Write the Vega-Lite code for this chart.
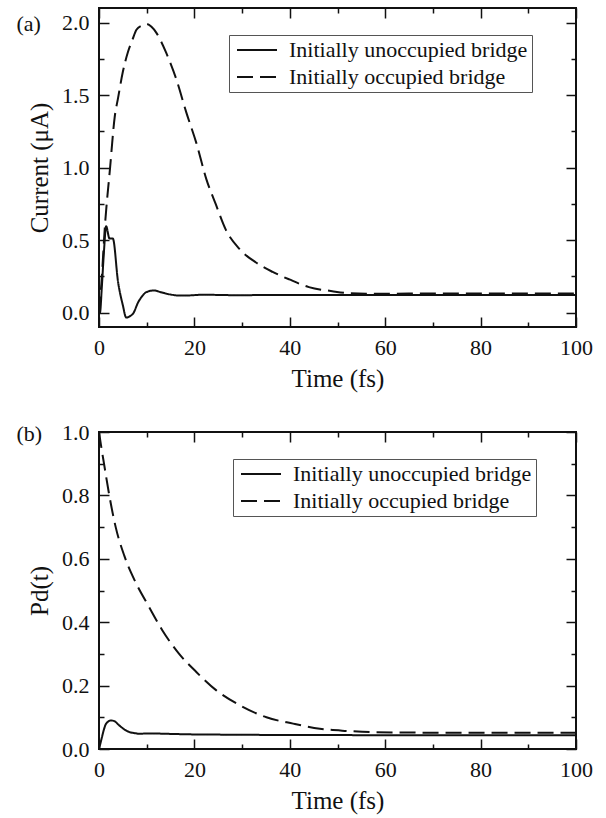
{
  "$schema": "https://vega.github.io/schema/vega-lite/v6.json",
  "padding": {"left": 15, "top": 6, "right": 5, "bottom": 5},
  "bounds": "flush",
  "spacing": 105,
  "datasets": {
    "current": [
      {"t": 0, "v": 0, "series": "Initially unoccupied bridge"},
      {"t": 0.2, "v": 0.0, "series": "Initially unoccupied bridge"},
      {"t": 0.6, "v": 0.18, "series": "Initially unoccupied bridge"},
      {"t": 1.0, "v": 0.4, "series": "Initially unoccupied bridge"},
      {"t": 1.5, "v": 0.595, "series": "Initially unoccupied bridge"},
      {"t": 2.2, "v": 0.51, "series": "Initially unoccupied bridge"},
      {"t": 2.9, "v": 0.51, "series": "Initially unoccupied bridge"},
      {"t": 4.0, "v": 0.21, "series": "Initially unoccupied bridge"},
      {"t": 5.0, "v": 0.05, "series": "Initially unoccupied bridge"},
      {"t": 5.7, "v": -0.035, "series": "Initially unoccupied bridge"},
      {"t": 6.5, "v": -0.025, "series": "Initially unoccupied bridge"},
      {"t": 7.2, "v": -0.005, "series": "Initially unoccupied bridge"},
      {"t": 8.2, "v": 0.07, "series": "Initially unoccupied bridge"},
      {"t": 9.0, "v": 0.11, "series": "Initially unoccupied bridge"},
      {"t": 9.9, "v": 0.14, "series": "Initially unoccupied bridge"},
      {"t": 11.5, "v": 0.152, "series": "Initially unoccupied bridge"},
      {"t": 13, "v": 0.14, "series": "Initially unoccupied bridge"},
      {"t": 15, "v": 0.124, "series": "Initially unoccupied bridge"},
      {"t": 17, "v": 0.117, "series": "Initially unoccupied bridge"},
      {"t": 19, "v": 0.118, "series": "Initially unoccupied bridge"},
      {"t": 22, "v": 0.123, "series": "Initially unoccupied bridge"},
      {"t": 25, "v": 0.121, "series": "Initially unoccupied bridge"},
      {"t": 30, "v": 0.119, "series": "Initially unoccupied bridge"},
      {"t": 35, "v": 0.121, "series": "Initially unoccupied bridge"},
      {"t": 40, "v": 0.121, "series": "Initially unoccupied bridge"},
      {"t": 50, "v": 0.12, "series": "Initially unoccupied bridge"},
      {"t": 60, "v": 0.12, "series": "Initially unoccupied bridge"},
      {"t": 70, "v": 0.12, "series": "Initially unoccupied bridge"},
      {"t": 80, "v": 0.12, "series": "Initially unoccupied bridge"},
      {"t": 90, "v": 0.12, "series": "Initially unoccupied bridge"},
      {"t": 100, "v": 0.12, "series": "Initially unoccupied bridge"},
      {"t": 0, "v": 0, "series": "Initially occupied bridge"},
      {"t": 0.5, "v": 0.2, "series": "Initially occupied bridge"},
      {"t": 1.25, "v": 0.6, "series": "Initially occupied bridge"},
      {"t": 2.3, "v": 0.99, "series": "Initially occupied bridge"},
      {"t": 3.3, "v": 1.35, "series": "Initially occupied bridge"},
      {"t": 4.0, "v": 1.48, "series": "Initially occupied bridge"},
      {"t": 5.0, "v": 1.66, "series": "Initially occupied bridge"},
      {"t": 6.1, "v": 1.8, "series": "Initially occupied bridge"},
      {"t": 7.0, "v": 1.88, "series": "Initially occupied bridge"},
      {"t": 7.85, "v": 1.95, "series": "Initially occupied bridge"},
      {"t": 9.0, "v": 1.98, "series": "Initially occupied bridge"},
      {"t": 9.9, "v": 1.99, "series": "Initially occupied bridge"},
      {"t": 11.0, "v": 1.97, "series": "Initially occupied bridge"},
      {"t": 12.0, "v": 1.93, "series": "Initially occupied bridge"},
      {"t": 13.0, "v": 1.87, "series": "Initially occupied bridge"},
      {"t": 14.1, "v": 1.79, "series": "Initially occupied bridge"},
      {"t": 16.2, "v": 1.61, "series": "Initially occupied bridge"},
      {"t": 18.3, "v": 1.38, "series": "Initially occupied bridge"},
      {"t": 20.4, "v": 1.17, "series": "Initially occupied bridge"},
      {"t": 22.5, "v": 0.92, "series": "Initially occupied bridge"},
      {"t": 24.5, "v": 0.745, "series": "Initially occupied bridge"},
      {"t": 26.6, "v": 0.57, "series": "Initially occupied bridge"},
      {"t": 29.4, "v": 0.44, "series": "Initially occupied bridge"},
      {"t": 32.9, "v": 0.345, "series": "Initially occupied bridge"},
      {"t": 36.4, "v": 0.28, "series": "Initially occupied bridge"},
      {"t": 39.9, "v": 0.228, "series": "Initially occupied bridge"},
      {"t": 44, "v": 0.175, "series": "Initially occupied bridge"},
      {"t": 48.9, "v": 0.147, "series": "Initially occupied bridge"},
      {"t": 52.4, "v": 0.133, "series": "Initially occupied bridge"},
      {"t": 56, "v": 0.13, "series": "Initially occupied bridge"},
      {"t": 60, "v": 0.13, "series": "Initially occupied bridge"},
      {"t": 70, "v": 0.131, "series": "Initially occupied bridge"},
      {"t": 80, "v": 0.131, "series": "Initially occupied bridge"},
      {"t": 90, "v": 0.131, "series": "Initially occupied bridge"},
      {"t": 100, "v": 0.131, "series": "Initially occupied bridge"}
    ],
    "pd": [
      {"t": 0, "v": 0, "series": "Initially unoccupied bridge"},
      {"t": 0.5, "v": 0.03, "series": "Initially unoccupied bridge"},
      {"t": 1.0, "v": 0.06, "series": "Initially unoccupied bridge"},
      {"t": 1.5, "v": 0.08, "series": "Initially unoccupied bridge"},
      {"t": 2.5, "v": 0.09, "series": "Initially unoccupied bridge"},
      {"t": 3.2, "v": 0.088, "series": "Initially unoccupied bridge"},
      {"t": 4.2, "v": 0.075, "series": "Initially unoccupied bridge"},
      {"t": 5.3, "v": 0.062, "series": "Initially unoccupied bridge"},
      {"t": 6.3, "v": 0.054, "series": "Initially unoccupied bridge"},
      {"t": 7.5, "v": 0.05, "series": "Initially unoccupied bridge"},
      {"t": 8.4, "v": 0.048, "series": "Initially unoccupied bridge"},
      {"t": 10, "v": 0.049, "series": "Initially unoccupied bridge"},
      {"t": 11.2, "v": 0.049, "series": "Initially unoccupied bridge"},
      {"t": 14, "v": 0.048, "series": "Initially unoccupied bridge"},
      {"t": 20, "v": 0.046, "series": "Initially unoccupied bridge"},
      {"t": 30, "v": 0.045, "series": "Initially unoccupied bridge"},
      {"t": 40, "v": 0.044, "series": "Initially unoccupied bridge"},
      {"t": 50, "v": 0.044, "series": "Initially unoccupied bridge"},
      {"t": 60, "v": 0.043, "series": "Initially unoccupied bridge"},
      {"t": 80, "v": 0.043, "series": "Initially unoccupied bridge"},
      {"t": 100, "v": 0.043, "series": "Initially unoccupied bridge"},
      {"t": 0, "v": 1.0, "series": "Initially occupied bridge"},
      {"t": 0.4, "v": 0.96, "series": "Initially occupied bridge"},
      {"t": 1.05, "v": 0.9, "series": "Initially occupied bridge"},
      {"t": 2.1, "v": 0.805, "series": "Initially occupied bridge"},
      {"t": 3.5, "v": 0.7, "series": "Initially occupied bridge"},
      {"t": 5.3, "v": 0.61, "series": "Initially occupied bridge"},
      {"t": 7.7, "v": 0.525, "series": "Initially occupied bridge"},
      {"t": 10.5, "v": 0.448, "series": "Initially occupied bridge"},
      {"t": 13.3, "v": 0.374, "series": "Initially occupied bridge"},
      {"t": 16.8, "v": 0.3, "series": "Initially occupied bridge"},
      {"t": 20.4, "v": 0.243, "series": "Initially occupied bridge"},
      {"t": 24.6, "v": 0.185, "series": "Initially occupied bridge"},
      {"t": 29.5, "v": 0.138, "series": "Initially occupied bridge"},
      {"t": 35.1, "v": 0.1, "series": "Initially occupied bridge"},
      {"t": 40.7, "v": 0.08, "series": "Initially occupied bridge"},
      {"t": 46.3, "v": 0.064, "series": "Initially occupied bridge"},
      {"t": 51.9, "v": 0.057, "series": "Initially occupied bridge"},
      {"t": 57.5, "v": 0.053, "series": "Initially occupied bridge"},
      {"t": 65, "v": 0.052, "series": "Initially occupied bridge"},
      {"t": 75, "v": 0.051, "series": "Initially occupied bridge"},
      {"t": 85, "v": 0.051, "series": "Initially occupied bridge"},
      {"t": 100, "v": 0.051, "series": "Initially occupied bridge"}
    ]
  },
  "vconcat": [
    {
      "width": 477,
      "height": 319,
      "data": {"name": "current"},
      "layer": [
        {
          "mark": {"type": "line", "color": "#111111", "strokeWidth": 2, "interpolate": "monotone", "clip": true},
          "encoding": {
            "x": {"field": "t", "type": "quantitative", "scale": {"domain": [0, 100], "nice": false, "zero": false},
                  "axis": {"orient": "bottom", "values": [0, 20, 40, 60, 80, 100], "tickSize": -10, "labelPadding": 20, "title": "Time (fs)", "titlePadding": 8}},
            "y": {"field": "v", "type": "quantitative", "scale": {"domain": [-0.1, 2.1], "nice": false, "zero": false},
                  "axis": {"orient": "left", "values": [0, 0.5, 1, 1.5, 2], "format": ".1f", "tickSize": -10, "labelPadding": 20, "title": "Current (μA)", "titlePadding": 9}},
            "strokeDash": {"field": "series", "type": "nominal",
                           "scale": {"domain": ["Initially unoccupied bridge", "Initially occupied bridge"], "range": [[1, 0], [16, 7]]},
                           "legend": {"orient": "none", "legendX": 130, "legendY": 27, "title": null, "symbolType": "M-2,0H2", "symbolSize": 400, "symbolOffset": 13, "labelOffset": 21}}
          }
        },
        {
          "mark": {"type": "line", "opacity": 0},
          "encoding": {
            "x": {"field": "t", "type": "quantitative", "axis": {"orient": "bottom", "values": [10, 30, 50, 70, 90], "tickSize": -5, "labels": false, "title": null}},
            "y": {"field": "v", "type": "quantitative", "axis": {"orient": "left", "values": [0.25, 0.75, 1.25, 1.75], "tickSize": -5, "labels": false,
                  "title": "(a)", "titleAngle": 0, "titleAlign": "left", "titleBaseline": "alphabetic", "titleFontSize": 22, "titleX": -83, "titleY": 22}}
          }
        },
        {
          "mark": {"type": "line", "opacity": 0},
          "encoding": {
            "x": {"field": "t", "type": "quantitative", "axis": {"orient": "top", "values": [0, 20, 40, 60, 80, 100], "tickSize": -10, "labels": false, "title": null}},
            "y": {"field": "v", "type": "quantitative", "axis": {"orient": "right", "values": [0, 0.5, 1, 1.5, 2], "tickSize": -10, "labels": false, "title": null}}
          }
        },
        {
          "mark": {"type": "line", "opacity": 0},
          "encoding": {
            "x": {"field": "t", "type": "quantitative", "axis": {"orient": "top", "values": [10, 30, 50, 70, 90], "tickSize": -5, "labels": false, "title": null}},
            "y": {"field": "v", "type": "quantitative", "axis": {"orient": "right", "values": [0.25, 0.75, 1.25, 1.75], "tickSize": -5, "labels": false, "title": null}}
          }
        }
      ],
      "resolve": {"axis": {"x": "independent", "y": "independent"}}
    },
    {
      "width": 477,
      "height": 317,
      "data": {"name": "pd"},
      "layer": [
        {
          "mark": {"type": "line", "color": "#111111", "strokeWidth": 2, "interpolate": "monotone", "clip": true},
          "encoding": {
            "x": {"field": "t", "type": "quantitative", "scale": {"domain": [0, 100], "nice": false, "zero": false},
                  "axis": {"orient": "bottom", "values": [0, 20, 40, 60, 80, 100], "tickSize": -10, "labelPadding": 20, "title": "Time (fs)", "titlePadding": 8}},
            "y": {"field": "v", "type": "quantitative", "scale": {"domain": [0, 1], "nice": false, "zero": false},
                  "axis": {"orient": "left", "values": [0, 0.2, 0.4, 0.6, 0.8, 1], "format": ".1f", "tickSize": -10, "labelPadding": 20, "title": "Pd(t)", "titlePadding": 9}},
            "strokeDash": {"field": "series", "type": "nominal",
                           "scale": {"domain": ["Initially unoccupied bridge", "Initially occupied bridge"], "range": [[1, 0], [16, 7]]},
                           "legend": {"orient": "none", "legendX": 134, "legendY": 27, "title": null, "symbolType": "M-2,0H2", "symbolSize": 400, "symbolOffset": 13, "labelOffset": 21}}
          }
        },
        {
          "mark": {"type": "line", "opacity": 0},
          "encoding": {
            "x": {"field": "t", "type": "quantitative", "axis": {"orient": "bottom", "values": [10, 30, 50, 70, 90], "tickSize": -5, "labels": false, "title": null}},
            "y": {"field": "v", "type": "quantitative", "axis": {"orient": "left", "values": [0.1, 0.3, 0.5, 0.7, 0.9], "tickSize": -5, "labels": false,
                  "title": "(b)", "titleAngle": 0, "titleAlign": "left", "titleBaseline": "alphabetic", "titleFontSize": 22, "titleX": -83, "titleY": 8}}
          }
        },
        {
          "mark": {"type": "line", "opacity": 0},
          "encoding": {
            "x": {"field": "t", "type": "quantitative", "axis": {"orient": "top", "values": [0, 20, 40, 60, 80, 100], "tickSize": -10, "labels": false, "title": null}},
            "y": {"field": "v", "type": "quantitative", "axis": {"orient": "right", "values": [0, 0.2, 0.4, 0.6, 0.8, 1], "tickSize": -10, "labels": false, "title": null}}
          }
        },
        {
          "mark": {"type": "line", "opacity": 0},
          "encoding": {
            "x": {"field": "t", "type": "quantitative", "axis": {"orient": "top", "values": [10, 30, 50, 70, 90], "tickSize": -5, "labels": false, "title": null}},
            "y": {"field": "v", "type": "quantitative", "axis": {"orient": "right", "values": [0.1, 0.3, 0.5, 0.7, 0.9], "tickSize": -5, "labels": false, "title": null}}
          }
        }
      ],
      "resolve": {"axis": {"x": "independent", "y": "independent"}}
    }
  ],
  "resolve": {"scale": {"strokeDash": "independent", "x": "independent", "y": "independent"}, "legend": {"strokeDash": "independent"}},
  "config": {
    "font": "Liberation Serif",
    "view": {"stroke": "#111111", "strokeWidth": 2},
    "axis": {"domain": false, "grid": false, "tickColor": "#111111", "tickWidth": 1.5,
             "labelFont": "Liberation Serif", "labelFontSize": 22, "labelColor": "#111111",
             "labelFlush": false, "labelOverlap": false, "labelBound": false,
             "titleFont": "Liberation Serif", "titleFontSize": 25, "titleFontWeight": "normal", "titleColor": "#111111"},
    "legend": {"symbolStrokeWidth": 2,
               "labelFont": "Liberation Serif", "labelFontSize": 22, "labelColor": "#111111", "labelLimit": 400,
               "padding": 4, "rowPadding": 5, "strokeColor": "#555555", "fillColor": "white"}
  }
}
